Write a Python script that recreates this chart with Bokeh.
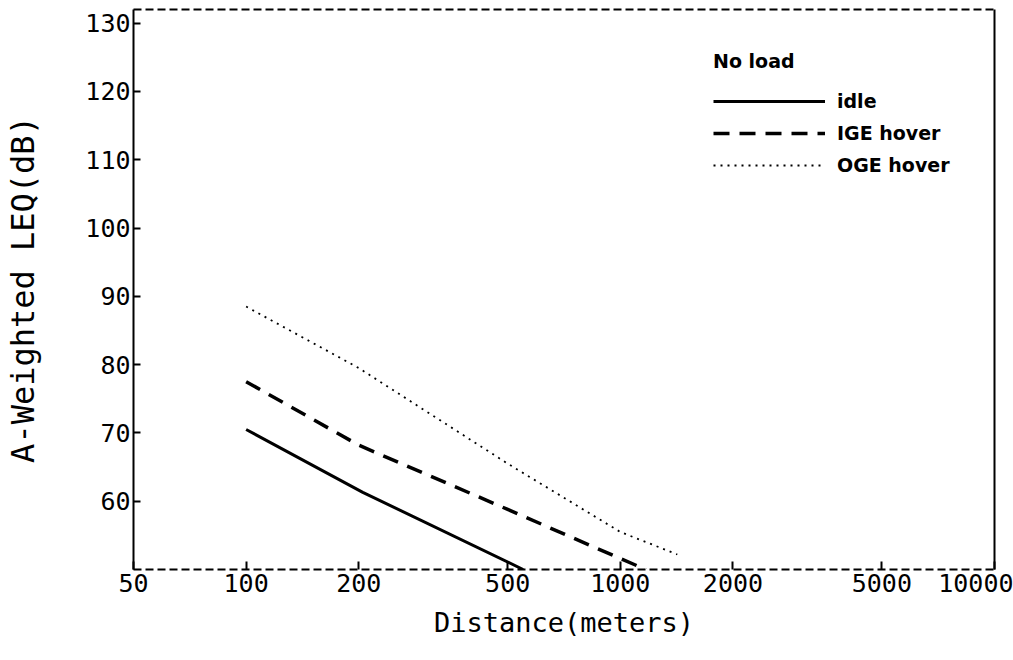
from bokeh.plotting import figure
from bokeh.models import Range1d, LinearAxis, LogAxis, FixedTicker, Legend, LegendItem
from bokeh.embed import file_html
from bokeh.resources import INLINE

# Data
idle_x = [100, 205, 550]
idle_y = [70.5, 61.3, 50.0]
ige_x = [100, 200, 500, 1000, 1170]
ige_y = [77.5, 68.2, 58.8, 51.6, 50.0]
oge_x = [100, 200, 500, 1000, 1420]
oge_y = [88.5, 79.5, 65.5, 55.5, 52.2]

x_ticks = [50, 100, 200, 500, 1000, 2000, 5000, 10000]
y_ticks = [60, 70, 80, 90, 100, 110, 120, 130]

MONO = "DejaVu Sans Mono"

p = figure(width=1013, height=660, x_axis_type="log",
           x_range=Range1d(50, 10000), y_range=Range1d(50, 132),
           output_backend="svg", toolbar_location=None,
           min_border_left=133, min_border_right=19,
           min_border_top=9, min_border_bottom=91)
p.xgrid.visible = False
p.ygrid.visible = False
p.outline_line_color = None

xa = p.below[0]
xa.ticker = FixedTicker(ticks=x_ticks)
xa.major_label_overrides = {t: str(t) for t in x_ticks}
xa.major_tick_in = 8
xa.major_tick_out = 0
xa.minor_tick_line_color = None
xa.major_tick_line_width = 2
xa.axis_line_width = 2
xa.axis_line_dash = "8 4"
xa.major_label_text_font = MONO
xa.major_label_text_font_size = "25px"
xa.major_label_text_color = "black"
xa.major_label_standoff = 4
xa.axis_label = "Distance(meters)"
xa.axis_label_text_font = MONO
xa.axis_label_text_font_size = "27px"
xa.axis_label_text_font_style = "normal"
xa.axis_label_text_color = "black"
xa.axis_label_standoff = 12

ya = p.left[0]
ya.ticker = FixedTicker(ticks=y_ticks)
ya.major_tick_in = 7
ya.major_tick_out = 0
ya.minor_tick_line_color = None
ya.major_tick_line_width = 2
ya.axis_line_width = 2
ya.major_label_text_font = MONO
ya.major_label_text_font_size = "25px"
ya.major_label_text_color = "black"
ya.major_label_standoff = 3
ya.axis_label = "A-Weighted LEQ(dB)"
ya.axis_label_text_font = MONO
ya.axis_label_text_font_size = "32px"
ya.axis_label_text_font_style = "normal"
ya.axis_label_text_color = "black"
ya.axis_label_standoff = 40

top = LogAxis(ticker=FixedTicker(ticks=[]), axis_line_width=2, axis_line_dash="8 4",
              major_tick_line_color=None, minor_tick_line_color=None,
              major_label_text_font_size="0px", major_label_standoff=0)
right = LinearAxis(ticker=FixedTicker(ticks=[]), axis_line_width=2,
                   major_tick_line_color=None, minor_tick_line_color=None,
                   major_label_text_font_size="0px", major_label_standoff=0)
p.add_layout(top, "above")
p.add_layout(right, "right")

r1 = p.line(idle_x, idle_y, line_width=3, line_color="black")
r2 = p.line(ige_x, ige_y, line_width=3.5, line_color="black", line_dash="16 10")
r3 = p.line(oge_x, oge_y, line_width=1.8, line_color="black", line_dash="2 5")

legend = Legend(items=[LegendItem(label="idle", renderers=[r1]),
                       LegendItem(label="IGE hover", renderers=[r2]),
                       LegendItem(label="OGE hover", renderers=[r3])],
                title="No load", location=(580, 393),
                glyph_width=112, glyph_height=20, label_height=20,
                spacing=10, padding=0, margin=0, label_standoff=12,
                border_line_color=None, background_fill_alpha=0,
                title_text_font="DejaVu Sans", title_text_font_style="bold",
                title_text_font_size="19px", title_standoff=18,
                title_text_color="black",
                label_text_font="DejaVu Sans", label_text_font_style="bold",
                label_text_font_size="19px", label_text_color="black")
p.add_layout(legend)

open("out.html", "w").write(file_html(p, INLINE))
